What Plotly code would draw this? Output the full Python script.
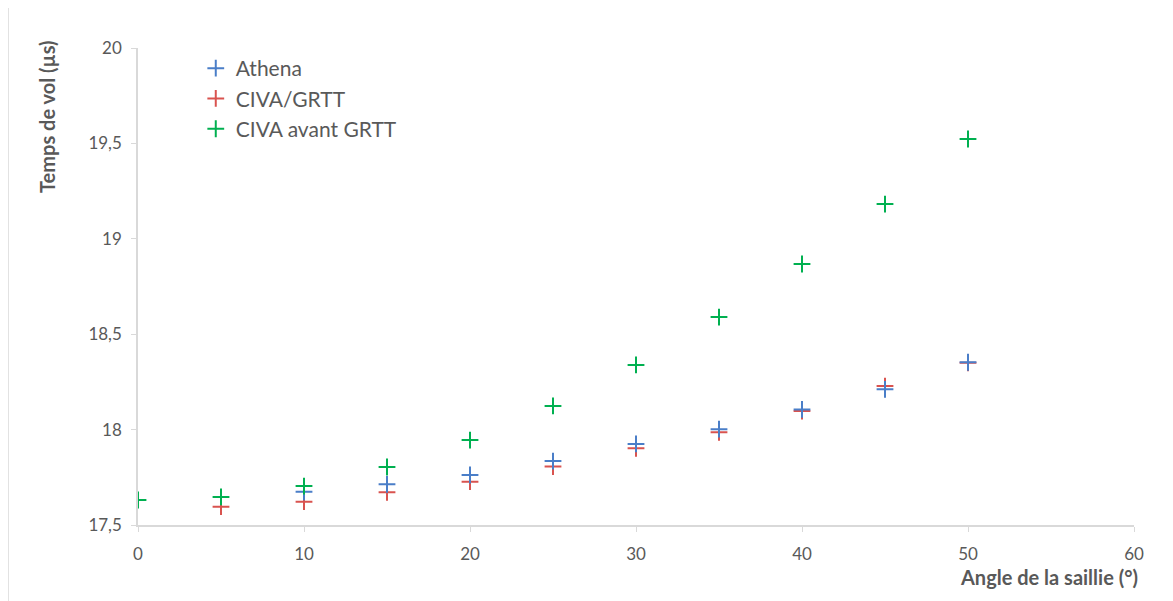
import plotly.graph_objects as go

angles = [0, 5, 10, 15, 20, 25, 30, 35, 40, 45, 50]
athena_angles = [10, 15, 20, 25, 30, 35, 40, 45, 50]
athena = [17.674, 17.713, 17.762, 17.835, 17.925, 18.002, 18.106, 18.211, 18.353]
civa_angles = [5, 10, 15, 20, 25, 30, 35, 40, 45, 50]
civa_grtt = [17.596, 17.622, 17.671, 17.727, 17.806, 17.902, 17.986, 18.097, 18.228, 18.350]
civa_avant = [17.631, 17.647, 17.704, 17.804, 17.945, 18.124, 18.339, 18.590, 18.868, 19.182, 19.523]

x_ticks = [0, 10, 20, 30, 40, 50, 60]
y_ticks = [17.5, 18, 18.5, 19, 19.5, 20]
y_tick_labels = ["17,5", "18", "18,5", "19", "19,5", "20"]

FONT = "Lato, Open Sans, sans-serif"
GRAY = "#595959"

fig = go.Figure()
# draw order: red, blue, green (legend order kept via legendrank)
series = [
    ("CIVA/GRTT", civa_angles, civa_grtt, "#D9534F", 2),
    ("Athena", athena_angles, athena, "#4A7EC8", 1),
    ("CIVA avant GRTT", angles, civa_avant, "#00B050", 3),
]
for name, xs, ys, col, rank in series:
    fig.add_trace(go.Scatter(
        x=xs, y=ys, name=name, mode="markers", legendrank=rank,
        marker=dict(symbol="cross-thin", size=12, line=dict(color=col, width=2), color=col),
    ))

fig.update_layout(
    width=1173, height=601,
    margin=dict(l=130, r=47, t=40, b=84),
    paper_bgcolor="white", plot_bgcolor="white",
    font=dict(family=FONT, color=GRAY, size=17),
    showlegend=True,
    legend=dict(x=0.058, y=1.0, xanchor="left", yanchor="top",
                font=dict(size=21, color=GRAY, family=FONT),
                bgcolor="rgba(0,0,0,0)", itemwidth=30, traceorder="normal"),
    xaxis=dict(range=[0, 60], tickvals=x_ticks, showgrid=False, zeroline=False,
               showline=True, linecolor="#D9D9D9", linewidth=1.5,
               ticks="outside", ticklen=5, tickcolor="#D9D9D9",
               tickfont=dict(size=17, color=GRAY), ticklabelstandoff=8),
    yaxis=dict(range=[17.5, 20], tickvals=y_ticks, ticktext=y_tick_labels,
               showgrid=False, zeroline=False,
               showline=True, linecolor="#D9D9D9", linewidth=1.5,
               ticks="outside", ticklen=5, tickcolor="#D9D9D9",
               tickfont=dict(size=17, color=GRAY), ticklabelstandoff=6),
    shapes=[dict(type="rect", xref="paper", yref="paper",
                 x0=-130/996, x1=1.2, y0=-0.5, y1=1 + 42/477,
                 line=dict(color="#D9D9D9", width=1.5), fillcolor="rgba(0,0,0,0)", layer="below")],
    annotations=[
        dict(text="<b>Temps de vol (µs)</b>", xref="paper", yref="paper",
             x=-91/996, y=1 - 69/477, textangle=-90, showarrow=False,
             font=dict(size=20, color=GRAY, family=FONT), xanchor="center", yanchor="middle"),
        dict(text="<b>Angle de la saillie (°)</b>", xref="paper", yref="paper",
             x=1 + 6/996, y=-52/477, showarrow=False,
             font=dict(size=20, color=GRAY, family=FONT), xanchor="right", yanchor="middle"),
    ],
)

fig.write_html("out.html")
